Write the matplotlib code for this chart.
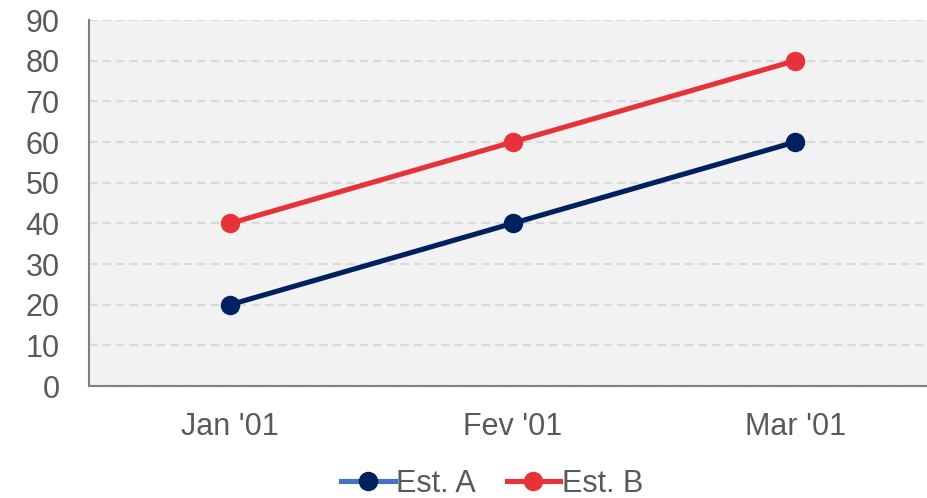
import matplotlib
matplotlib.use("Agg")
import matplotlib.pyplot as plt
from matplotlib.lines import Line2D

plt.rcParams['font.family'] = ['Liberation Sans', 'DejaVu Sans']

categories = ["Jan '01", "Fev '01", "Mar '01"]
est_a = [20, 40, 60]
est_b = [40, 60, 80]
yticks = [0, 10, 20, 30, 40, 50, 60, 70, 80, 90]

navy = '#002060'
red = '#E8323A'
legend_blue = '#4472C4'
txt = '#595959'

fig = plt.figure(figsize=(9.28, 4.98), dpi=100)
ax = fig.add_axes([89/928, 1-386/498, (928-89)/928, (386-20)/498])
ax.set_facecolor('#F2F2F2')

x = list(range(len(categories)))
ax.plot(x, est_a, color=navy, lw=3.7, marker='o', ms=13, zorder=3)
ax.plot(x, est_b, color=red, lw=3.7, marker='o', ms=13, zorder=3)

ax.set_xlim(-0.5, 2.47)
ax.set_ylim(0, 90)
ax.set_yticks(yticks)
ax.set_xticks(x)
ax.set_xticklabels(categories)
ax.yaxis.grid(True, color='#D9D9D9', ls=(0, (4, 2.5)), lw=1.5)
ax.set_axisbelow(True)
for s in ['top', 'right']:
    ax.spines[s].set_visible(False)
for s in ['left', 'bottom']:
    ax.spines[s].set_color('#7F7F7F')
    ax.spines[s].set_linewidth(1.5)
ax.tick_params(axis='both', length=0, labelsize=22, colors=txt)
ax.tick_params(axis='x', pad=19)
ax.tick_params(axis='y', pad=21)
for lab in ax.get_yticklabels():
    lab.set_horizontalalignment('right')

handles = [
    Line2D([], [], color=legend_blue, lw=3.7, marker='o', ms=13, mfc=navy, mec=navy),
    Line2D([], [], color=red, lw=3.7, marker='o', ms=13),
]
fig.legend(handles, ['Est. A', 'Est. B'], loc='center', bbox_to_anchor=(492/928, 1-484/498),
           ncol=2, frameon=False, fontsize=22, labelcolor=txt, handlelength=1.75,
           handletextpad=0.05, columnspacing=1.0)

fig.savefig('out.png', dpi=100)
